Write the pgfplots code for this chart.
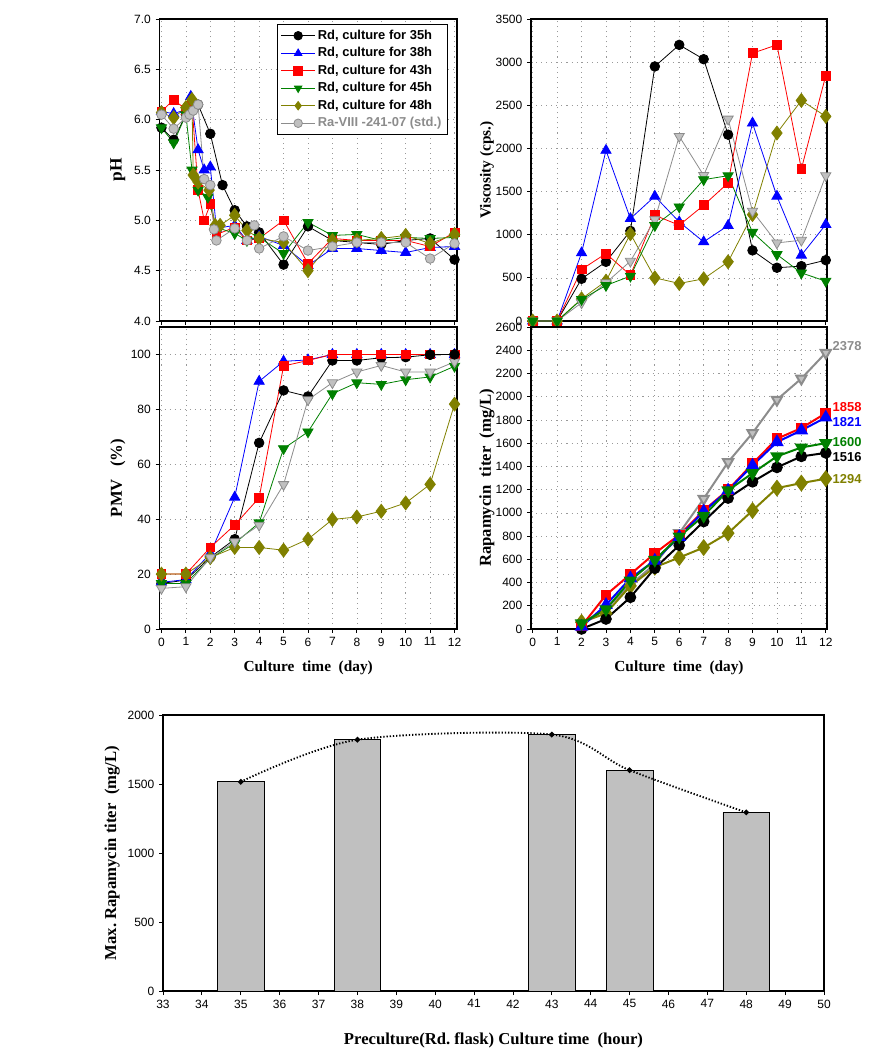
\documentclass[border=0pt]{standalone}
\usepackage{fontspec}
\setmainfont{Liberation Serif}
\newfontfamily\arial{Liberation Sans}
\usepackage{pgfplots}
\pgfplotsset{compat=1.18}
\definecolor{cgreen}{RGB}{0,128,0}
\definecolor{colive}{RGB}{128,128,0}
\definecolor{cgray}{RGB}{140,140,140}
\definecolor{cgrayfill}{RGB}{192,192,192}
\definecolor{barfill}{RGB}{192,192,192}
\pgfplotsset{
  base/.style={scale only axis, clip=false,
    axis line style={line width=0.8pt},
    tick align=outside, major tick length=3pt,
    xtick pos=left, ytick pos=left,
    tick style={line width=0.6pt, black},
    tick label style={font=\arial\fontsize{9}{10}\selectfont},
    /pgf/number format/assume math mode=true,
    /pgf/number format/set thousands separator={},
    label style={font=\bfseries\fontsize{11.5}{13}\selectfont},
  },
  gridded/.style={grid=major, grid style={gray!80, line width=0.5pt, dash pattern=on 0.8pt off 3pt}},
  leftcol/.style={base, gridded, width=223.1pt, height=226.5pt, xmin=-0.08, xmax=12.1, xtick={0,...,12}},
  rightcol/.style={base, gridded, width=222pt, height=226.5pt, xmin=-0.07, xmax=12.05, xtick={0,...,12}},
  s35/.style={black, line width=0.6pt, mark=*, mark size=3.6pt, mark options={fill=black, draw=black, solid}},
  s38/.style={blue, line width=0.6pt, mark=triangle*, mark size=4.4pt, mark options={fill=blue, draw=blue, solid}},
  s43/.style={red, line width=0.6pt, mark=square*, mark size=3.3pt, mark options={fill=red, draw=red, solid}},
  s45/.style={cgreen, line width=0.6pt, mark=triangle*, mark size=4.4pt, mark options={fill=cgreen, draw=cgreen, rotate=180, solid}},
  s48/.style={colive, line width=0.6pt, mark=diamond*, mark size=5.2pt, mark options={fill=colive, draw=colive, solid}},
  sstdc/.style={cgray, line width=0.6pt, mark=*, mark size=3.6pt, mark options={fill=cgrayfill, draw=cgray, solid}},
  sstdt/.style={cgray, line width=0.6pt, mark=triangle*, mark size=4.4pt, mark options={fill=cgrayfill, draw=cgray, rotate=180, solid}},
}
\begin{document}
\begin{tikzpicture}
\useasboundingbox (0,0) rectangle (658.5pt,792pt);

% ---------------- pH ----------------
\begin{axis}[leftcol, at={(119.625pt,551.25pt)}, anchor=south west,
  ymin=4, ymax=7, ytick={4,4.5,...,7}, xticklabels={},
  yticklabel style={/pgf/number format/.cd, fixed, fixed zerofill, precision=1},
  ylabel={pH},
  ylabel style={at={(axis description cs:-0.14,0.5)}, anchor=center, font=\bfseries\fontsize{13}{15}\selectfont},
  legend style={at={(rel axis cs:0.97,0.985)}, anchor=north east, draw=black, line width=0.8pt,
    font=\arial\bfseries\fontsize{9.7}{11}\selectfont, cells={anchor=west}, inner sep=2.5pt, row sep=0.6pt},
  legend image code/.code={\draw[mark repeat=2,mark phase=2, mark size=3.2pt] plot coordinates {(0pt,0pt) (12.5pt,0pt) (25pt,0pt)};},
]
\addplot[s35] coordinates {(0,5.92)(0.5,5.80)(1,6.05)(1.5,6.15)(2,5.86)(2.5,5.35)(3,5.10)(3.5,4.94)(4,4.88)(5,4.56)(6,4.94)(7,4.80)(8,4.78)(9,4.76)(10,4.80)(11,4.82)(12,4.61)};
\addlegendentry{Rd, culture for 35h}
\addplot[s38] coordinates {(0,6.08)(0.5,6.06)(1,6.10)(1.2,6.23)(1.5,5.70)(1.75,5.50)(2,5.53)(2.25,4.92)(3,4.95)(3.5,4.80)(4,4.84)(5,4.75)(6,4.55)(7,4.72)(8,4.72)(9,4.70)(10,4.68)(11,4.73)(12,4.74)};
\addlegendentry{Rd, culture for 38h}
\addplot[s43] coordinates {(0,6.08)(0.5,6.20)(1,6.10)(1.25,6.15)(1.5,5.30)(1.75,5.00)(2,5.16)(2.25,4.86)(3,4.93)(3.5,4.80)(4,4.82)(5,5.00)(6,4.57)(7,4.82)(8,4.80)(9,4.80)(10,4.80)(11,4.74)(12,4.88)};
\addlegendentry{Rd, culture for 43h}
\addplot[s45] coordinates {(0,5.92)(0.5,5.77)(1,6.05)(1.25,5.50)(1.5,5.30)(1.9,5.23)(2.25,4.93)(3,4.87)(3.5,4.80)(4,4.83)(5,4.67)(6,4.98)(7,4.85)(8,4.86)(9,4.80)(10,4.83)(11,4.82)(12,4.83)};
\addlegendentry{Rd, culture for 45h}
\addplot[s48] coordinates {(0,6.07)(0.5,6.02)(1,6.12)(1.25,6.20)(1.3,5.45)(1.5,5.38)(1.95,5.30)(2.2,4.95)(2.4,4.95)(3,5.05)(3.5,4.90)(4,4.82)(5,4.78)(6,4.50)(7,4.80)(8,4.80)(9,4.82)(10,4.85)(11,4.77)(12,4.86)};
\addlegendentry{Rd, culture for 48h}
\addplot[sstdc] coordinates {(0,6.05)(0.5,5.91)(1,6.02)(1.15,6.05)(1.3,6.09)(1.5,6.15)(1.75,5.41)(2,5.35)(2.15,4.91)(2.25,4.80)(3,4.92)(3.5,4.80)(3.8,4.95)(4,4.72)(5,4.84)(6,4.70)(7,4.74)(8,4.78)(9,4.78)(10,4.78)(11,4.62)(12,4.77)};
\addlegendentry{\textcolor{cgray}{Ra-VIII -241-07 (std.)}}
\end{axis}

% ---------------- Viscosity ----------------
\begin{axis}[rightcol, at={(398.25pt,551.25pt)}, anchor=south west,
  ymin=0, ymax=3500, ytick={0,500,...,3500}, xticklabels={},
  ylabel={Viscosity (cps.)},
  ylabel style={at={(axis description cs:-0.149,0.5)}, anchor=center},
]
\addplot[s35] coordinates {(0,0)(1,0)(2,489)(3,686)(4,1044)(5,2950)(6,3200)(7,3034)(8,2159)(9,818)(10,617)(11,636)(12,705)};
\addplot[s38] coordinates {(0,0)(1,0)(2,789)(3,1977)(4,1186)(5,1445)(6,1148)(7,917)(8,1106)(9,2293)(10,1445)(11,762)(12,1118)};
\addplot[s43] coordinates {(0,0)(1,0)(2,597)(3,782)(4,531)(5,1225)(6,1110)(7,1341)(8,1600)(9,3104)(10,3200)(11,1762)(12,2845)};
\addplot[s48] coordinates {(0,0)(1,0)(2,257)(3,462)(4,1010)(5,500)(6,435)(7,489)(8,686)(9,1233)(10,2178)(11,2556)(12,2371)};
\addplot[sstdt] coordinates {(0,0)(1,0)(2,211)(3,443)(4,693)(5,1175)(6,2140)(7,1688)(8,2340)(9,1272)(10,905)(11,936)(12,1684)};
\addplot[s45] coordinates {(0,0)(1,0)(2,250)(3,412)(4,520)(5,1106)(6,1322)(7,1638)(8,1684)(9,1028)(10,770)(11,557)(12,462)};
\end{axis}

% ---------------- PMV ----------------
\begin{axis}[leftcol, at={(119.625pt,320.25pt)}, anchor=south west,
  ymin=0, ymax=110, ytick={0,20,...,100},
  ylabel={PMV\ \ \ (\%)},
  ylabel style={at={(axis description cs:-0.14,0.5)}, anchor=center, font=\bfseries\fontsize{12.5}{14}\selectfont},
  xlabel={Culture\ \ time\ \ (day)},
  xlabel style={at={(axis description cs:0.5,-0.129)}, anchor=center},
]
\addplot[s35] coordinates {(0,16.6)(1,17.8)(2,26.1)(3,32.7)(4,67.8)(5,86.9)(6,84.7)(7,97.8)(8,97.8)(9,98.8)(10,99)(11,99.9)(12,100)};
\addplot[s38] coordinates {(0,17)(1,18)(2,27.5)(3,48)(4,90.2)(5,97.5)(6,98)(7,100)(8,100)(9,100)(10,100)(11,100)(12,100)};
\addplot[s43] coordinates {(0,20)(1,20)(2,29.7)(3,37.9)(4,47.8)(5,95.8)(6,97.8)(7,100)(8,100)(9,100)(10,100)(11,100)(12,100)};
\addplot[s45] coordinates {(0,16.6)(1,16.6)(2,25.7)(3,31.2)(4,38.7)(5,65.7)(6,71.8)(7,85.7)(8,89.7)(9,89.1)(10,90.8)(11,91.8)(12,95.7)};
\addplot[s48] coordinates {(0,20)(1,20)(2,26)(3,29.7)(4,29.7)(5,28.7)(6,32.7)(7,39.9)(8,40.8)(9,42.9)(10,45.9)(11,52.7)(12,81.9)};
\addplot[sstdt] coordinates {(0,14.8)(1,15.4)(2,26)(3,31.8)(4,37.8)(5,52.6)(6,83.5)(7,89.7)(8,93.6)(9,96)(10,93.6)(11,93.6)(12,97.3)};
\addplot[s35] coordinates {(11,99.9)(12,100)};
\end{axis}

% ---------------- Rapamycin ----------------
\begin{axis}[rightcol, at={(398.25pt,320.25pt)}, anchor=south west,
  ymin=0, ymax=2600, ytick={0,200,...,2600},
  ylabel={Rapamycin\ \ titer\ \ (mg/L)},
  ylabel style={at={(axis description cs:-0.149,0.5)}, anchor=center, font=\bfseries\fontsize{12.5}{14}\selectfont},
  xlabel={Culture\ \ time\ \ (day)},
  xlabel style={at={(axis description cs:0.5,-0.129)}, anchor=center},
]
\addplot[sstdt, line width=1.5pt] coordinates {(2,40)(3,175)(4,380)(5,560)(6,825)(7,1121)(8,1437)(9,1687)(10,1974)(11,2156)(12,2378)};
\addplot[s48, line width=1.5pt] coordinates {(2,57)(3,135)(4,371)(5,532)(6,615)(7,701)(8,825)(9,1020)(10,1213)(11,1256)(12,1294)};
\addplot[s35, line width=1.5pt] coordinates {(2,0)(3,86)(4,273)(5,523)(6,721)(7,925)(8,1127)(9,1267)(10,1391)(11,1486)(12,1516)};
\addplot[s43, line width=1.5pt] coordinates {(2,25)(3,293)(4,471)(5,652)(6,810)(7,1020)(8,1198)(9,1423)(10,1638)(11,1730)(12,1858)};
\addplot[s38, line width=1.5pt] coordinates {(2,20)(3,207)(4,437)(5,589)(6,793)(7,1012)(8,1193)(9,1408)(10,1609)(11,1710)(12,1821)};
\addplot[s45, line width=1.5pt] coordinates {(2,49)(3,170)(4,417)(5,595)(6,796)(7,974)(8,1193)(9,1342)(10,1486)(11,1563)(12,1600)};
\begin{scope}[every node/.style={anchor=west, font=\arial\bfseries\fontsize{9.7}{11}\selectfont, inner sep=0pt, xshift=5pt}]
\node[text=cgray] at (axis cs:12,2440) {2378};
\node[text=red] at (axis cs:12,1915) {1858};
\node[text=blue] at (axis cs:12,1785) {1821};
\node[text=cgreen] at (axis cs:12,1610) {1600};
\node[text=black] at (axis cs:12,1480) {1516};
\node[text=colive] at (axis cs:12,1294) {1294};
\end{scope}
\end{axis}

% ---------------- Bottom bar chart ----------------
\begin{axis}[base, at={(122.25pt,48.75pt)}, anchor=south west,
  width=495.75pt, height=207pt,
  xmin=33, xmax=50, ymin=0, ymax=2000,
  xtick={33,...,50}, ytick={0,500,...,2000},
  ylabel={Max.\ Rapamycin\ titer\ \ (mg/L)},
  ylabel style={at={(axis description cs:-0.077,0.5)}, anchor=center, font=\bfseries\fontsize{12.5}{14}\selectfont},
  xlabel={Preculture(Rd.\ flask) Culture time\ \ (hour)},
  xlabel style={at={(axis description cs:0.5,-0.178)}, anchor=center, font=\bfseries\fontsize{12.5}{14}\selectfont},
]
\addplot[ybar, bar width=1.2, fill=barfill, draw=black, line width=0.6pt] coordinates {(35,1516)(38,1821)(43,1858)(45,1600)(48,1294)};
\addplot[black, smooth, line width=1.4pt, dash pattern=on 1pt off 1.4pt, mark=*, mark size=1.3pt, mark options={solid}] coordinates {(35,1516)(38,1821)(43,1858)(45,1600)(48,1294)};
\end{axis}
\end{tikzpicture}
\end{document}
